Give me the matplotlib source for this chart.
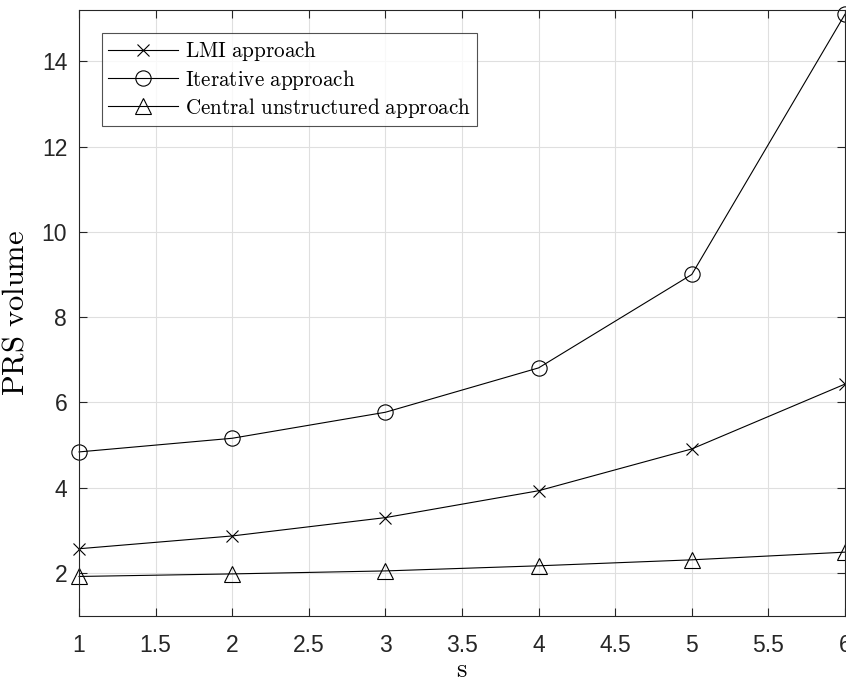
import matplotlib.pyplot as plt
import numpy as np

plt.rcParams['mathtext.fontset'] = 'cm'
plt.rcParams['font.family'] = 'Liberation Sans'

# data
s = [1, 2, 3, 4, 5, 6]
lmi = [2.57, 2.87, 3.30, 3.93, 4.91, 6.43]
iterative = [4.84, 5.16, 5.77, 6.81, 9.00, 15.10]
central = [1.92, 1.98, 2.05, 2.17, 2.31, 2.49]
labels = ['LMI approach', 'Iterative approach', 'Central unstructured approach']

fig = plt.figure(figsize=(8.46, 6.82), dpi=100)
ax = fig.add_axes([0.0934, 0.0972, 0.9054, 0.8881])

ax.plot(s, lmi, 'k-x', lw=0.8, ms=9, mew=0.8, clip_on=False, label=r'$\mathrm{LMI\ approach}$')
ax.plot(s, iterative, 'k-o', lw=0.8, ms=11, mew=0.8, mfc='none', clip_on=False,
        label=r'$\mathrm{Iterative\ approach}$')
ax.plot(s, central, 'k-^', lw=0.8, ms=11, mew=0.8, mfc='none', clip_on=False,
        label=r'$\mathrm{Central\ unstructured\ approach}$')

ax.set_xlim(1, 6)
ax.set_ylim(1, 15.2)
ax.set_xticks(np.arange(1, 6.01, 0.5))
ax.set_xticklabels(['1', '1.5', '2', '2.5', '3', '3.5', '4', '4.5', '5', '5.5', '6'])
ax.set_yticks(range(2, 15, 2))
ax.tick_params(direction='in', top=True, right=True, labelsize=16.5, length=6,
               color='#262626', labelcolor='#262626')
ax.tick_params(axis='x', pad=13)
ax.tick_params(axis='y', pad=8.5)
for sp in ax.spines.values():
    sp.set_color('#262626')
    sp.set_linewidth(0.8)
ax.grid(True, color='#dfdfdf', lw=0.8)
ax.set_axisbelow(True)

ax.set_xlabel(r'$\mathrm{s}$', fontsize=19, labelpad=1)
ax.set_ylabel(r'$\mathrm{PRS\ volume}$', fontsize=22, labelpad=8)

leg = ax.legend(loc='upper left', bbox_to_anchor=(0.030, 0.962), fontsize=15.2,
                frameon=True, fancybox=False, edgecolor='#262626', handlelength=3.3,
                handletextpad=0.33, borderpad=0.3, labelspacing=0.2, borderaxespad=0)
leg.get_frame().set_linewidth(0.8)

fig.savefig('out.png', dpi=100)
